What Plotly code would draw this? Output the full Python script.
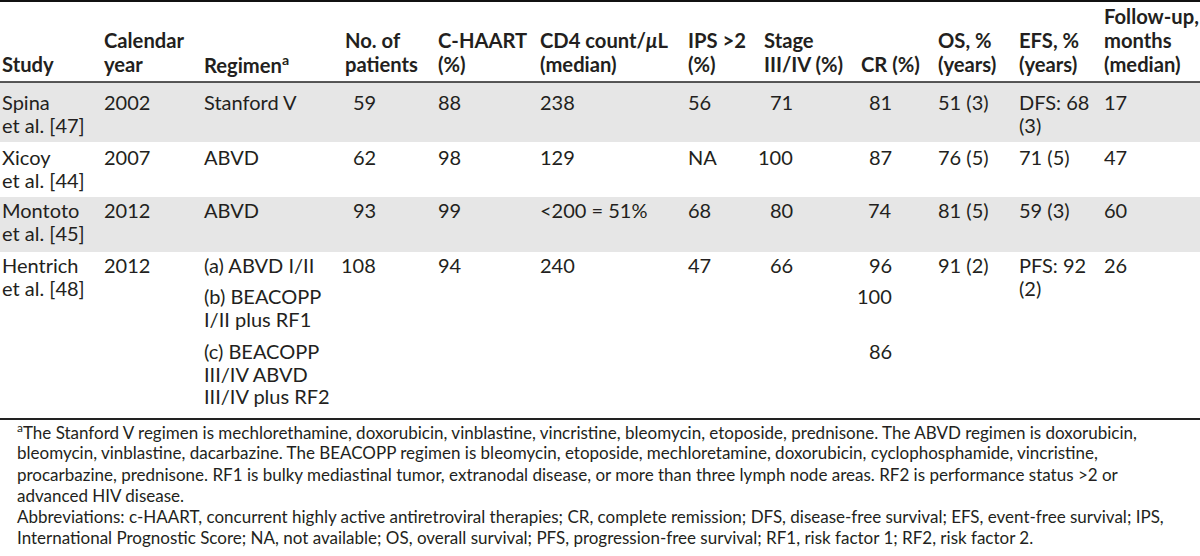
import plotly.graph_objects as go

# ---------------- data ----------------
headers = ["Study", "Calendar<br>year", "Regimen<sup>a</sup>", "No. of<br>patients",
           "C-HAART<br>(%)", "CD4 count/<i>μ</i>L<br>(median)", "IPS >2<br>(%)",
           "Stage<br>III/IV (%)", "CR (%)", "OS, %<br>(years)", "EFS, %<br>(years)",
           "Follow-up,<br>months<br>(median)"]
study = ["Spina<br>et al. [47]", "Xicoy<br>et al. [44]", "Montoto<br>et al. [45]", "Hentrich<br>et al. [48]"]
year = ["2002", "2007", "2012", "2012"]
regimen = [["Stanford V"], ["ABVD"], ["ABVD"],
           ["(a) ABVD I/II", "(b) BEACOPP<br>I/II plus RF1", "(c) BEACOPP<br>III/IV ABVD<br>III/IV plus RF2"]]
patients = ["59", "62", "93", "108"]
chaart = ["88", "98", "99", "94"]
cd4 = ["238", "129", "&lt;200 = 51%", "240"]
ips = ["56", "NA", "68", "47"]
stage = ["71", "100", "80", "66"]
cr = [["81"], ["87"], ["74"], ["96", "100", "86"]]
os_ = ["51 (3)", "76 (5)", "81 (5)", "91 (2)"]
efs = ["DFS: 68<br>(3)", "71 (5)", "59 (3)", "PFS: 92<br>(2)"]
follow = ["17", "47", "60", "26"]
footnotes = [
    "<sup>a</sup>The Stanford V regimen is mechlorethamine, doxorubicin, vinblastine, vincristine, bleomycin, etoposide, prednisone. The ABVD regimen is doxorubicin,",
    "bleomycin, vinblastine, dacarbazine. The BEACOPP regimen is bleomycin, etoposide, mechloretamine, doxorubicin, cyclophosphamide, vincristine,",
    "procarbazine, prednisone. RF1 is bulky mediastinal tumor, extranodal disease, or more than three lymph node areas. RF2 is performance status >2 or",
    "advanced HIV disease.",
    "Abbreviations: c-HAART, concurrent highly active antiretroviral therapies; CR, complete remission; DFS, disease-free survival; EFS, event-free survival; IPS,",
    "International Prognostic Score; NA, not available; OS, overall survival; PFS, progression-free survival; RF1, risk factor 1; RF2, risk factor 2.",
]

# ---------------- layout constants ----------------
W, H = 1200, 556
FONT = "Lato"
TXT = "#231f20"
BODY = 20
HEAD = 20.2
FOOT = 17
LINE = 22.5
header_x = [1, 103, 203, 344, 437, 539, 687, 763, 860, 937, 1018, 1103]
header_last_baseline = 72
header_line_gap = 24
row_tops = [82, 142, 197, 252]
row_bottom = 418
row_baselines = [110, 165, 218, 273]
sub_baselines = [273, 304, 359]
gray = "#e6e6e6"
foot_x = 16
foot_baseline0 = 438
foot_gap = 21.3

fig = go.Figure()
fig.update_layout(
    width=W, height=H, margin=dict(l=0, r=0, t=0, b=0),
    paper_bgcolor="white", plot_bgcolor="white", showlegend=False,
    xaxis=dict(range=[0, W], visible=False, fixedrange=True),
    yaxis=dict(range=[H, 0], visible=False, fixedrange=True),
)


def put(x, baseline, s, size=BODY, bold=False, anchor="left"):
    text = f"<b>{s}</b>" if bold else s
    fig.add_annotation(x=x, y=baseline - 0.387 * size, xref="x", yref="y",
                       text=text, showarrow=False, xanchor=anchor, yanchor="middle",
                       align=anchor, borderpad=0,
                       font=dict(family=FONT, size=size, color=TXT))


def put_lines(x, baseline, s, size=BODY, bold=False, anchor="left", gap=LINE):
    for i, ln in enumerate(s.split("<br>")):
        put(x, baseline + i * gap, ln, size, bold, anchor)


# row backgrounds
for i, top in enumerate(row_tops):
    bottom = row_tops[i + 1] if i + 1 < len(row_tops) else row_bottom
    if i % 2 == 0:
        fig.add_shape(type="rect", x0=0, x1=W, y0=top, y1=bottom, xref="x", yref="y",
                      fillcolor=gray, line=dict(width=0), layer="below")

# rules
fig.add_shape(type="line", x0=0, x1=W, y0=1, y1=1, line=dict(color="#111", width=2))
fig.add_shape(type="line", x0=0, x1=W, y0=row_tops[0], y1=row_tops[0], line=dict(color="#222", width=1.5))
fig.add_shape(type="line", x0=0, x1=W, y0=row_bottom + 1, y1=row_bottom + 1, line=dict(color="#222", width=2))

# headers
for hx, h in zip(header_x, headers):
    lines = h.split("<br>")
    n = len(lines)
    for i, ln in enumerate(lines):
        put(hx, header_last_baseline - (n - 1 - i) * header_line_gap, ln, size=HEAD, bold=True)

# body
cols_left = [(header_x[0], study), (header_x[1], year), (header_x[4], chaart), (header_x[5], cd4),
             (header_x[6], ips), (header_x[9], os_), (header_x[10], efs), (header_x[11], follow)]
for r in range(len(study)):
    b = row_baselines[r]
    for cx, col in cols_left:
        put_lines(cx, b, col[r])
    put(377, b, patients[r], anchor="right")
    put(794, b, stage[r], anchor="right")
    for k, reg in enumerate(regimen[r]):
        bb = sub_baselines[k] if len(regimen[r]) > 1 else b
        put_lines(header_x[2], bb, reg)
    for k, v in enumerate(cr[r]):
        bb = sub_baselines[k] if len(cr[r]) > 1 else b
        put(893, bb, v, anchor="right")

# footnotes
for i, f in enumerate(footnotes):
    put(foot_x, foot_baseline0 + i * foot_gap, f, size=FOOT)

fig.write_html("out.html", config={"displayModeBar": False, "staticPlot": True},
               post_script="document.body.style.margin='0';")
